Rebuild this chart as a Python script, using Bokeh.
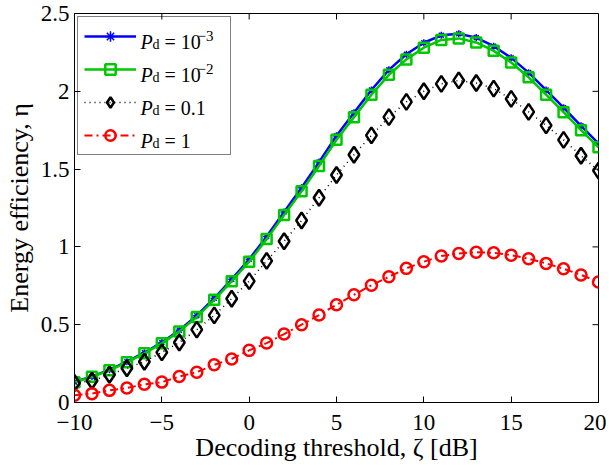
from bokeh.plotting import figure
from bokeh.models import (Range1d, FixedTicker, Legend, LegendItem)
from bokeh.embed import file_html
from bokeh.resources import INLINE
from bokeh.core.properties import value

# ---------------- data ----------------
zeta_db = [-10, -9, -8, -7, -6, -5, -4, -3, -2, -1, 0, 1, 2, 3, 4, 5, 6, 7, 8, 9,
           10, 11, 12, 13, 14, 15, 16, 17, 18, 19, 20]

eta_pd_1e3 = [0.132, 0.167, 0.21, 0.262, 0.32, 0.386, 0.464, 0.558, 0.67, 0.792,
              0.92, 1.067, 1.225, 1.38, 1.545, 1.715, 1.862, 2.008, 2.138, 2.238,
              2.312, 2.36, 2.37, 2.345, 2.29, 2.215, 2.12, 2.008, 1.895, 1.778, 1.665]

eta_pd_1e2 = [0.13, 0.165, 0.207, 0.258, 0.316, 0.38, 0.457, 0.55, 0.66, 0.78,
              0.905, 1.05, 1.205, 1.358, 1.52, 1.688, 1.834, 1.978, 2.106, 2.205,
              2.28, 2.33, 2.34, 2.314, 2.26, 2.185, 2.09, 1.978, 1.866, 1.75, 1.64]

eta_pd_01 = [0.125, 0.14, 0.178, 0.22, 0.262, 0.322, 0.386, 0.468, 0.56, 0.667,
             0.78, 0.91, 1.036, 1.17, 1.316, 1.462, 1.592, 1.717, 1.834, 1.932,
             2.0, 2.048, 2.07, 2.053, 2.017, 1.951, 1.868, 1.781, 1.688, 1.586, 1.49]

eta_pd_1 = [0.047, 0.057, 0.078, 0.093, 0.117, 0.131, 0.167, 0.195, 0.242, 0.28,
            0.335, 0.382, 0.44, 0.5, 0.562, 0.628, 0.692, 0.754, 0.808, 0.862,
            0.905, 0.941, 0.958, 0.966, 0.962, 0.947, 0.924, 0.894, 0.86, 0.82, 0.775]

x_ticks = [-10, -5, 0, 5, 10, 15, 20]
x_tick_labels = ["\u221210", "\u22125", "0", "5", "10", "15", "20"]
y_ticks = [0, 0.5, 1, 1.5, 2, 2.5]
y_tick_labels = ["0", "0.5", "1", "1.5", "2", "2.5"]

legend_values = ["10", "10", "0.1", "1"]
legend_exponents = ["\u22123", "\u22122", "", ""]

x_label = "Decoding threshold, \u03b6 [dB]"
y_label = "Energy efficiency, \u03b7"

X_MIN, X_MAX = -10, 20
Y_MIN, Y_MAX = 0, 2.5

# ---------------- figure ----------------
FONT = "Liberation Serif"
W, H = 606, 464
BL, BR, BT, BB = 74, 8, 13, 62
FRAME_W = W - BL - BR
FRAME_H = H - BT - BB
TICK = 6

p = figure(width=W, height=H, output_backend="svg", toolbar_location=None,
           x_range=Range1d(X_MIN, X_MAX), y_range=Range1d(Y_MIN, Y_MAX),
           min_border_left=BL, min_border_right=BR, min_border_top=BT,
           min_border_bottom=BB)
p.background_fill_color = "white"
p.border_fill_color = "white"
p.outline_line_color = "black"
p.outline_line_width = 1
p.xgrid.visible = False
p.ygrid.visible = False

def style_axis(ax, ticks, labels):
    ax.ticker = FixedTicker(ticks=ticks)
    ax.major_label_overrides = {t: l for t, l in zip(ticks, labels)}
    ax.major_tick_in = TICK
    ax.major_tick_out = 0
    ax.minor_tick_line_color = None
    ax.axis_line_color = "black"
    ax.major_tick_line_color = "black"
    ax.major_label_text_font = FONT
    ax.major_label_text_color = "black"
    ax.major_label_text_font_size = "23px"
    ax.axis_label_text_font = FONT
    ax.axis_label_text_font_style = "normal"
    ax.axis_label_text_color = "black"
    ax.axis_label_text_font_size = "26px"

style_axis(p.xaxis[0], x_ticks, x_tick_labels)
style_axis(p.yaxis[0], y_ticks, y_tick_labels)
p.xaxis[0].major_label_standoff = 12
p.yaxis[0].major_label_standoff = 5
p.xaxis[0].axis_label = x_label
p.yaxis[0].axis_label = y_label
p.xaxis[0].axis_label_standoff = 0
p.yaxis[0].axis_label_standoff = 4

# inward ticks on the top and right frame edges
dy = TICK * (Y_MAX - Y_MIN) / FRAME_H
dx = TICK * (X_MAX - X_MIN) / FRAME_W
p.segment(x0=x_ticks, y0=[Y_MAX] * len(x_ticks), x1=x_ticks,
          y1=[Y_MAX - dy] * len(x_ticks), line_color="black", line_width=1)
p.segment(x0=[X_MAX] * len(y_ticks), y0=y_ticks, x1=[X_MAX - dx] * len(y_ticks),
          y1=y_ticks, line_color="black", line_width=1)

# ---------------- series ----------------
blue = "#0000FF"
green = "#00C800"
red = "#FF0000"

r1l = p.line(zeta_db, eta_pd_1e3, line_color=blue, line_width=2.5)
r1m = p.scatter(zeta_db, eta_pd_1e3, marker="asterisk", size=7, line_color=blue, line_width=1.5)

r2l = p.line(zeta_db, eta_pd_1e2, line_color=green, line_width=2.5)
r2m = p.scatter(zeta_db, eta_pd_1e2, marker="square", size=10, line_color=green,
                fill_color=None, line_width=2.5)

r3l = p.line(zeta_db, eta_pd_01, line_color="black", line_width=1.5, line_dash="1 4")
r3m = p.scatter(zeta_db, eta_pd_01, marker="diamond", size=16, line_color="black",
                fill_color=None, line_width=2.5)

r4l = p.line(zeta_db, eta_pd_1, line_color=red, line_width=2, line_dash="8 4 2 4")
r4m = p.scatter(zeta_db, eta_pd_1, marker="circle", size=11, line_color=red,
                fill_color=None, line_width=2.5)

LEG_MARGIN, LEG_PAD, GLYPH_W, GLYPH_H, LEG_SPACING, STANDOFF = 3, 6, 52, 26, 7, 5
items = [LegendItem(label=value(" "), renderers=[r1l, r1m]),
         LegendItem(label=value(" "), renderers=[r2l, r2m]),
         LegendItem(label=value(" "), renderers=[r3l, r3m]),
         LegendItem(label=value(" "), renderers=[r4l, r4m])]
legend = Legend(items=items, location="top_left", margin=LEG_MARGIN, padding=LEG_PAD,
                spacing=LEG_SPACING, glyph_width=GLYPH_W, glyph_height=GLYPH_H,
                label_width=83, label_height=GLYPH_H, label_standoff=STANDOFF,
                border_line_color="black", border_line_width=1,
                background_fill_alpha=0.0, label_text_font_size="16px")
p.add_layout(legend)

# legend texts, placed from frame pixel offsets converted to data units
def fx(px):
    return X_MIN + px / FRAME_W * (X_MAX - X_MIN)

def fy(py):
    return Y_MAX - py / FRAME_H * (Y_MAX - Y_MIN)

row_pitch = GLYPH_H + LEG_SPACING
text_x0 = LEG_MARGIN + LEG_PAD + GLYPH_W + STANDOFF
centers = [LEG_MARGIN + LEG_PAD + GLYPH_H / 2 + k * row_pitch for k in range(4)]

p.text(x=[fx(text_x0)] * 4, y=[fy(c + 6) for c in centers], text=["P"] * 4,
       text_font=value(FONT), text_font_size=value("20px"), text_font_style="italic",
       text_baseline="alphabetic", text_color="black")
p.text(x=[fx(text_x0 + 12)] * 4, y=[fy(c + 9) for c in centers], text=["d"] * 4,
       text_font=value(FONT), text_font_size=value("14px"),
       text_baseline="alphabetic", text_color="black")
p.text(x=[fx(text_x0 + 24)] * 4, y=[fy(c + 6) for c in centers],
       text=["= " + v for v in legend_values],
       text_font=value(FONT), text_font_size=value("20px"),
       text_baseline="alphabetic", text_color="black")
sup_rows = [k for k in range(4) if legend_exponents[k]]
p.text(x=[fx(text_x0 + 57)] * len(sup_rows), y=[fy(centers[k]) for k in sup_rows],
       text=[legend_exponents[k] for k in sup_rows],
       text_font=value(FONT), text_font_size=value("15px"),
       text_baseline="alphabetic", text_color="black")

open("out.html", "w").write(file_html(p, INLINE))
